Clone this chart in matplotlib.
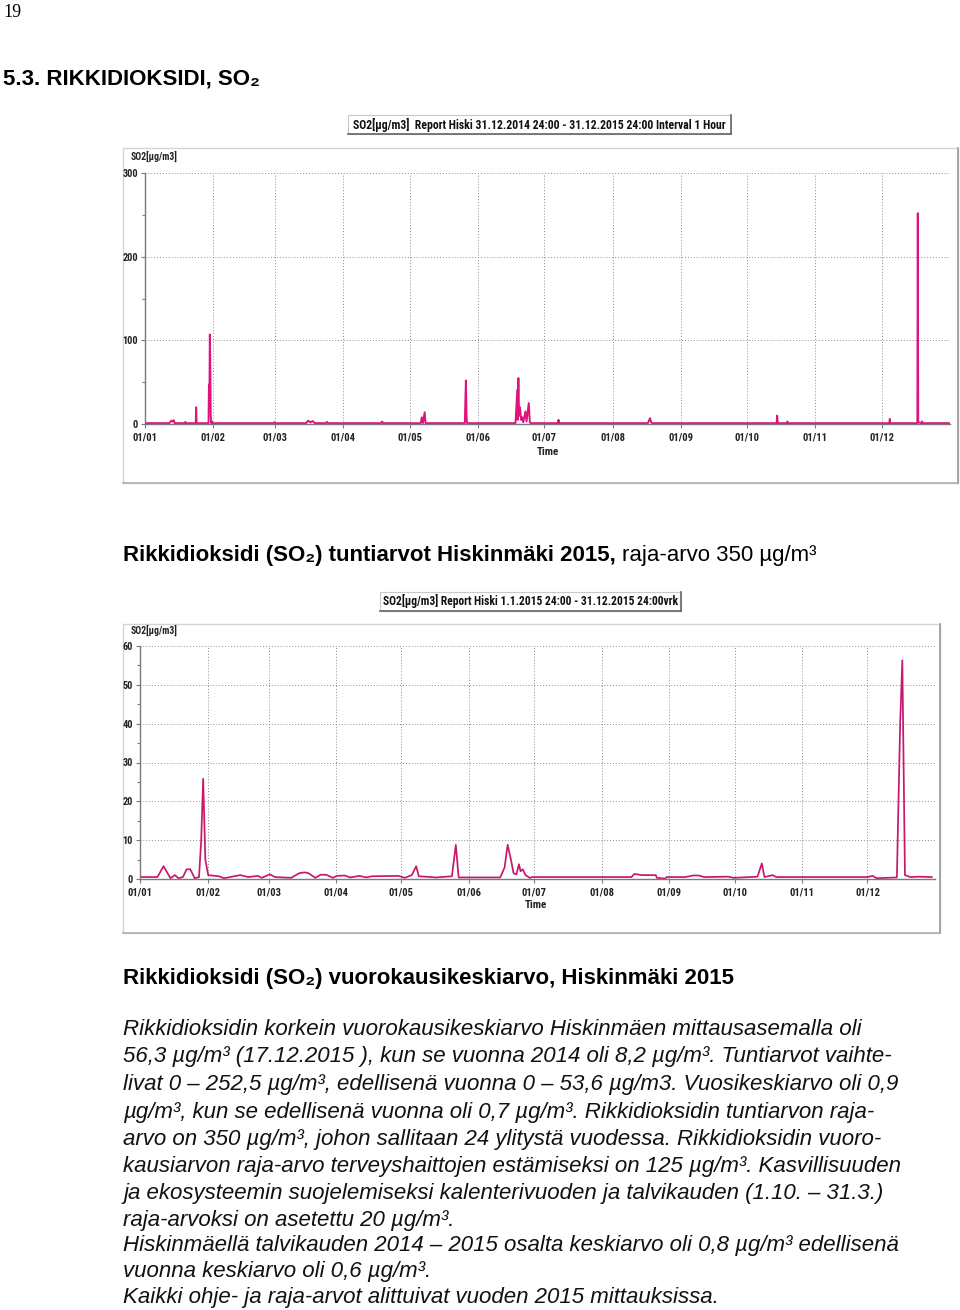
import matplotlib
matplotlib.use('Agg')
import matplotlib.pyplot as plt
from matplotlib.patches import Rectangle
from matplotlib.lines import Line2D

W, H = 960, 1310

# month ticks (day of year 2015)
month_days = [0, 31, 59, 90, 120, 151, 181, 212, 243, 273, 304, 334]
month_labels = ['01/01', '01/02', '01/03', '01/04', '01/05', '01/06',
                '01/07', '01/08', '01/09', '01/10', '01/11', '01/12']

# hourly values (day of year, ug/m3)
hour_day = [0, 11, 12, 12.5, 13, 13.5, 18, 18.3, 18.6, 23, 23.2, 23.4,
            28.8, 29, 29.2, 29.4, 29.6, 29.8, 30, 30.3, 30.6, 58, 58.5, 59,
            73, 74, 75, 76, 77, 82, 82.5, 83, 107, 107.5, 108,
            125, 125.5, 126, 126.8, 127.2, 145, 145.5, 145.8, 146,
            168, 168.8, 169, 169.3, 169.6, 170, 170.5, 171, 171.5, 172.5,
            173, 174, 174.5, 175, 187.3, 187.5, 187.7,
            228, 228.5, 229, 229.5, 230, 286.4, 286.6, 286.9, 287,
            291, 291.3, 291.6, 337.5, 337.7, 337.9,
            350.2, 350.4, 350.5, 350.6, 352, 352.3, 352.6, 365]
hour_val = [1, 1, 4, 3, 4.5, 1, 1, 2.5, 1, 1, 20, 1,
            1, 47, 30, 107, 70, 10, 1, 3, 1, 1, 2, 1,
            1, 4, 2, 3.5, 1, 1, 2.5, 1, 1, 3, 1,
            1, 8, 1, 14, 1, 1, 52, 8, 1,
            1, 41, 5, 55, 10, 20, 5, 8, 2, 15,
            3, 25, 2, 1, 1, 5, 1,
            1, 4, 7, 2, 1, 1, 10, 2, 1,
            1, 3, 1, 1, 6, 1,
            1, 252, 95, 2, 1, 3, 1, 1]

# daily means
day_day = [0, 8, 10.8, 14.0, 16.0, 17.7, 19.7, 21.4, 23.1, 25.1, 27.1, 28.1,
           29.0, 30.0, 31.3, 36.2, 38.6, 46.0, 49.7, 54.1, 55.9, 59.6, 62.0,
           69.4, 73.1, 75.6, 77.3, 80.5, 82.9, 85.4, 88.6, 90.3, 94.0, 96.5,
           100.7, 103.9, 106.3, 118.6, 121.6, 124.8, 126.8, 128.0, 130.9,
           135.9, 143.2, 145.0, 146.3, 165.4, 167.4, 168.8, 170.3, 171.5,
           172.8, 174.0, 174.7, 175.7, 177.0, 178.9, 180.2, 225.7, 226.9,
           230.6, 233.1, 236.8, 237.3, 241.2, 241.7, 250.3, 254.0, 256.5,
           259.0, 270.0, 272.5, 283.5, 285.5, 286.7, 290.4, 292.1, 334.0,
           336.4, 338.2, 347.5, 349.0, 350.0, 351.2, 353.7, 357.4, 363.5]
day_val = [0.5, 0.5, 3.3, 0.2, 1.0, 0.2, 0.5, 2.5, 2.5, 0.2, 0.5, 10,
           25.8, 5, 1.0, 0.7, 0.2, 1.0, 0.5, 0.8, 0.3, 1.2, 0.5,
           0.3, 1.5, 1.7, 1.5, 0.3, 1.1, 1.1, 0.3, 0.8, 0.9, 0.4,
           0.8, 0.4, 0.7, 0.8, 0.3, 1.0, 3.3, 0.7, 0.6,
           0.4, 0.7, 8.8, 0.4, 0.4, 3.0, 8.8, 5.0, 1.5,
           1.2, 3.8, 2.0, 2.5, 1.0, 0.3, 0.5, 0.5, 1.3,
           1.0, 1.0, 1.0, 0.3, 0.1, 0.5, 0.5, 0.9, 0.9,
           0.5, 0.6, 0.3, 0.6, 4.0, 0.5, 1.0, 0.5, 0.5,
           0.8, 0.2, 0.4, 40, 56.3, 1.0, 0.5, 0.6, 0.5]

narrow = ['Roboto Condensed', 'Liberation Sans', 'DejaVu Sans']
sans = ['Liberation Sans', 'DejaVu Sans']


def fx(x):
    return x / W


def fy(y):
    return 1 - y / H


fig = plt.figure(figsize=(W / 100, H / 100), dpi=100)
fig.patch.set_facecolor('white')


def panel(x0, y0, x1, y1):
    fig.patches.append(Rectangle((fx(x0), fy(y1)), fx(x1 - x0), (y1 - y0) / H,
                                 transform=fig.transFigure, fill=False,
                                 ec='#d4d4d4', lw=1.0, zorder=-1))
    # darker shadow on right and bottom
    fig.lines.append(Line2D([fx(x1), fx(x1)], [fy(y0), fy(y1)],
                            transform=fig.transFigure, color='#9a9a9a', lw=1.2))
    fig.lines.append(Line2D([fx(x0), fx(x1)], [fy(y1), fy(y1)],
                            transform=fig.transFigure, color='#b0b0b0', lw=1.2))


def title_box(x0, y0, x1, y1, txt, size):
    fig.patches.append(Rectangle((fx(x0), fy(y1)), fx(x1 - x0), (y1 - y0) / H,
                                 transform=fig.transFigure, fc='white',
                                 ec='#c8c8c8', lw=0.8))
    fig.lines.append(Line2D([fx(x1), fx(x1)], [fy(y0), fy(y1)],
                            transform=fig.transFigure, color='#666666', lw=1.2))
    fig.lines.append(Line2D([fx(x0), fx(x1)], [fy(y1), fy(y1)],
                            transform=fig.transFigure, color='#666666', lw=1.2))
    fig.text(fx((x0 + x1) / 2), fy((y0 + y1) / 2), txt, ha='center', va='center',
             family=narrow, fontweight='bold', fontsize=size, color='#111111')


def style_axes(ax, ymax, ystep):
    ax.set_xlim(0, 365)
    ax.set_ylim(0, ymax)
    ax.set_xticks(month_days)
    ax.set_xticklabels(month_labels)
    ax.set_yticks(range(0, ymax + 1, ystep))
    ax.set_yticks(range(ystep // 2, ymax, ystep), minor=True)
    for s in ['top', 'right']:
        ax.spines[s].set_visible(False)
    for s in ['left', 'bottom']:
        ax.spines[s].set_color('#7a7a7a')
        ax.spines[s].set_linewidth(1.0)
    ax.grid(True, which='major', ls=(0, (1, 2)), color='#8c8c8c', lw=0.7)
    ax.tick_params(axis='both', which='major', length=3, width=0.8,
                   color='#7a7a7a', pad=2)
    ax.tick_params(axis='y', which='minor', length=2, width=0.8, color='#7a7a7a')
    ax.tick_params(axis='x', pad=3)
    for lab in ax.get_xticklabels():
        lab.set_family(narrow)
        lab.set_fontweight('bold')
        lab.set_fontsize(7.6)
        lab.set_color('#222222')
    for lab in ax.get_yticklabels():
        lab.set_family(narrow)
        lab.set_fontweight('bold')
        lab.set_fontsize(7.4)
        lab.set_color('#222222')
    ax.set_axisbelow(True)


# page number and heading
fig.text(fx(3), fy(17), '19', family=['Liberation Serif', 'DejaVu Serif'],
         fontsize=13, va='baseline', ha='left')
fig.text(fx(3), fy(84), '5.3. RIKKIDIOKSIDI, SO\u2082', family=sans,
         fontweight='bold', fontsize=16, va='baseline', ha='left')

# ---- chart 1: hourly values
panel(123, 148, 958, 483)
title_box(348, 115, 731, 134,
          'SO2[µg/m3]  Report Hiski 31.12.2014 24:00 - 31.12.2015 24:00 Interval 1 Hour', 8.5)
ax1 = fig.add_axes([fx(145), fy(424), fx(805), 251 / H])
ax1.plot(hour_day, hour_val, color='#e2127c', lw=1.4)
style_axes(ax1, 300, 100)
fig.text(fx(131), fy(156), 'SO2[µg/m3]', family=narrow, fontweight='bold',
         fontsize=7, va='center', ha='left', color='#222222')
fig.text(fx(548), fy(452), 'Time', family=narrow, fontweight='bold',
         fontsize=8, va='center', ha='center', color='#222222')

# caption 1 (bold part + regular part)
r = fig.canvas.get_renderer()
t1 = fig.text(fx(123), fy(561), 'Rikkidioksidi (SO\u2082) tuntiarvot Hiskinmäki 2015,',
              family=sans, fontweight='bold', fontsize=16, va='baseline', ha='left')
bb = t1.get_window_extent(r)
fig.text(fx(bb.x1 + 6), fy(561), 'raja-arvo 350 µg/m³', family=sans,
         fontsize=16, va='baseline', ha='left')

# ---- chart 2: daily means
panel(123, 624, 940, 933)
title_box(380, 592, 681, 611,
          'SO2[µg/m3] Report Hiski 1.1.2015 24:00 - 31.12.2015 24:00vrk', 8.3)
ax2 = fig.add_axes([fx(140), fy(879), fx(795), 233 / H])
ax2.plot(day_day, day_val, color='#c8186e', lw=1.25)
style_axes(ax2, 60, 10)
fig.text(fx(131), fy(630), 'SO2[µg/m3]', family=narrow, fontweight='bold',
         fontsize=7, va='center', ha='left', color='#222222')
fig.text(fx(536), fy(905), 'Time', family=narrow, fontweight='bold',
         fontsize=8, va='center', ha='center', color='#222222')

fig.text(fx(123), fy(984), 'Rikkidioksidi (SO\u2082) vuorokausikeskiarvo, Hiskinmäki 2015',
         family=sans, fontweight='bold', fontsize=16, va='baseline', ha='left')

# ---- body text
body_lines = [
    'Rikkidioksidin korkein vuorokausikeskiarvo Hiskinmäen mittausasemalla oli',
    '56,3 µg/m³ (17.12.2015 ), kun se vuonna 2014 oli 8,2 µg/m³. Tuntiarvot vaihte-',
    'livat 0 – 252,5 µg/m³, edellisenä vuonna 0 – 53,6 µg/m3. Vuosikeskiarvo oli 0,9',
    'µg/m³, kun se edellisenä vuonna oli 0,7 µg/m³. Rikkidioksidin tuntiarvon raja-',
    'arvo on 350 µg/m³, johon sallitaan 24 ylitystä vuodessa. Rikkidioksidin vuoro-',
    'kausiarvon raja-arvo terveyshaittojen estämiseksi on 125 µg/m³. Kasvillisuuden',
    'ja ekosysteemin suojelemiseksi kalenterivuoden ja talvikauden (1.10. – 31.3.)',
    'raja-arvoksi on asetettu 20 µg/m³.',
    'Hiskinmäellä talvikauden 2014 – 2015 osalta keskiarvo oli 0,8 µg/m³ edellisenä',
    'vuonna keskiarvo oli 0,6 µg/m³.',
    'Kaikki ohje- ja raja-arvot alittuivat vuoden 2015 mittauksissa.',
]
body_base = [1035, 1062, 1090, 1118, 1145, 1172, 1199, 1226, 1251, 1277, 1303]
for line, yb in zip(body_lines, body_base):
    fig.text(fx(123), fy(yb), line, family=sans, style='italic', fontsize=16,
             va='baseline', ha='left', color='#111111')

fig.savefig('out.png', dpi=100, facecolor='white')
